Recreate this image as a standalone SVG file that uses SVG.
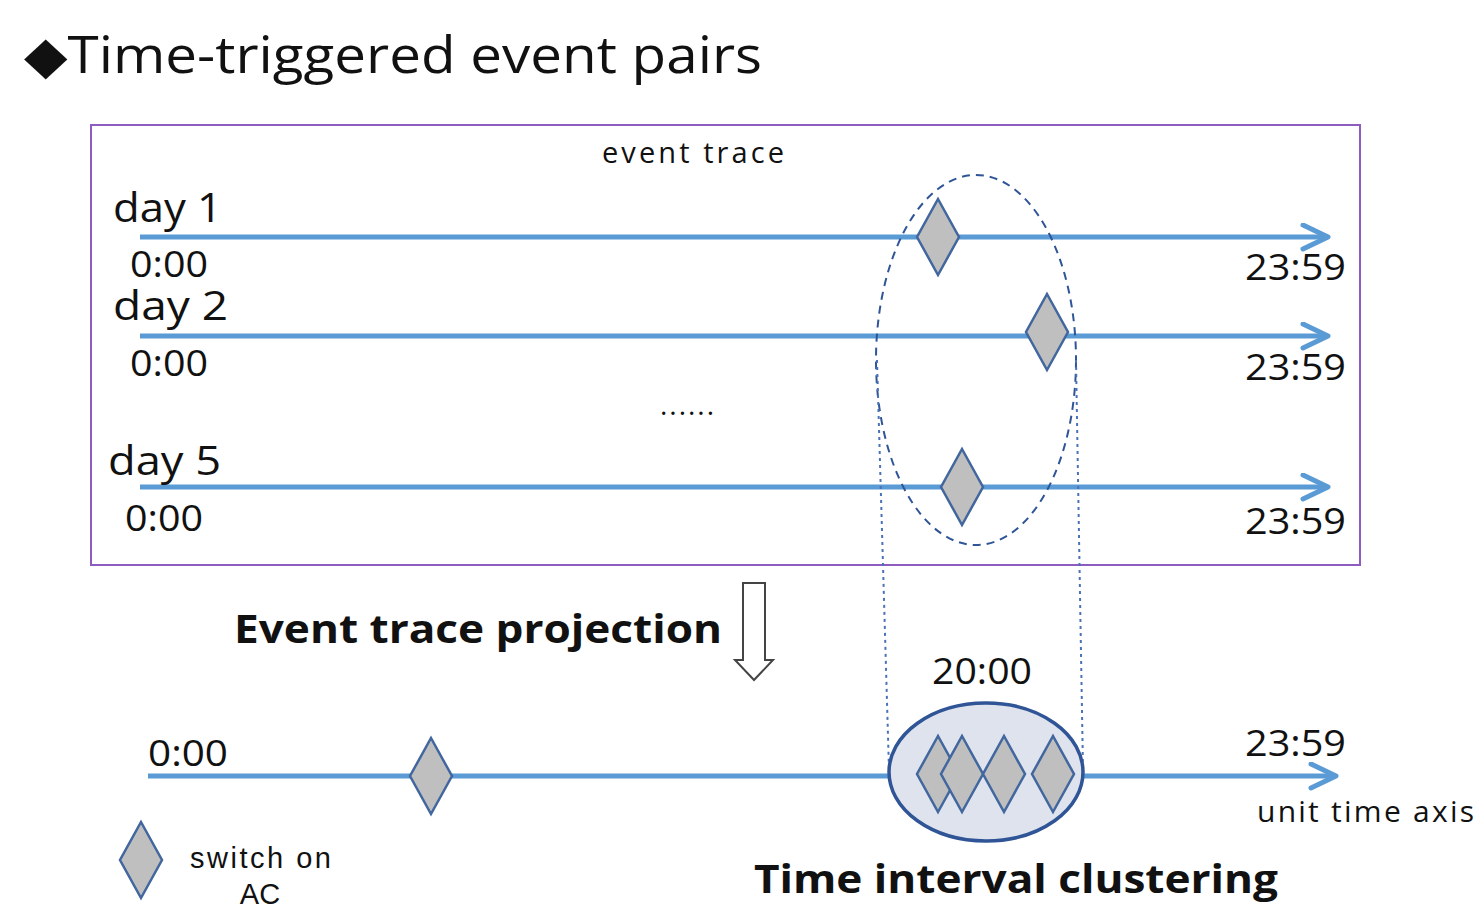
<svg xmlns="http://www.w3.org/2000/svg" width="1484" height="909" viewBox="0 0 1484 909">
<defs>
<style>
.ax{stroke:#5B9BD5;stroke-width:5;fill:none}
.dm{fill:#BFBFBF;stroke:#41679E;stroke-width:2.5;stroke-linejoin:miter}
.t{font-family:"Open Sans","Noto Sans","DejaVu Sans",sans-serif;fill:#111}
.a{font-family:"Liberation Sans",Arial,sans-serif;fill:#111}
.dl{stroke:#4A72B8;stroke-width:2;stroke-dasharray:3 4;fill:none}
</style>
<marker id="ah" markerUnits="userSpaceOnUse" markerWidth="40" markerHeight="40" refX="28" refY="14" orient="auto" viewBox="0 0 40 40">
<path d="M3,2 L28,14 L3,26" fill="none" stroke="#5B9BD5" stroke-width="5" stroke-linecap="round" stroke-linejoin="round"/>
</marker>
<polygon id="dia" points="0,-38 21,0 0,38 -21,0"/>
</defs>
<rect width="1484" height="909" fill="#fff"/>
<g id="title">
<text class="t" x="24" y="73" font-size="52" textLength="738" lengthAdjust="spacingAndGlyphs">◆Time-triggered event pairs</text>
</g>
<g id="trace-box">
<rect x="91" y="125" width="1269" height="440" fill="none" stroke="#8E5BC0" stroke-width="2"/>
<text class="t" x="602" y="163" font-size="29" textLength="182" lengthAdjust="spacing">event trace</text>
</g>
<g id="connectors">
<line class="ax" x1="140" y1="237" x2="1328" y2="237" marker-end="url(#ah)"/>
<line class="ax" x1="140" y1="336" x2="1328" y2="336" marker-end="url(#ah)"/>
<line class="ax" x1="140" y1="487" x2="1328" y2="487" marker-end="url(#ah)"/>
<line class="ax" x1="148" y1="776" x2="1336" y2="776" marker-end="url(#ah)"/>
<ellipse cx="976" cy="360" rx="100" ry="185" fill="none" stroke="#2F5597" stroke-width="2" stroke-dasharray="8 6"/>
<line class="dl" x1="877" y1="360" x2="889" y2="770"/>
<line class="dl" x1="1076" y1="360" x2="1083" y2="770"/>
<path d="M743,583 H765 V660 H773 L754,680 L735,660 H743 Z" fill="#fff" stroke="#444" stroke-width="2"/>
</g>
<g id="day1">
<text class="t" x="113" y="222" font-size="40" textLength="109" lengthAdjust="spacingAndGlyphs">day 1</text>
<text class="t" x="130" y="277" font-size="37" textLength="78" lengthAdjust="spacingAndGlyphs">0:00</text>
<text class="t" x="1245" y="280" font-size="37" textLength="101" lengthAdjust="spacingAndGlyphs">23:59</text>
<use href="#dia" class="dm" x="938" y="237"/>
</g>
<g id="day2">
<text class="t" x="113" y="320" font-size="40" textLength="115" lengthAdjust="spacingAndGlyphs">day 2</text>
<text class="t" x="130" y="376" font-size="37" textLength="78" lengthAdjust="spacingAndGlyphs">0:00</text>
<text class="t" x="1245" y="380" font-size="37" textLength="101" lengthAdjust="spacingAndGlyphs">23:59</text>
<use href="#dia" class="dm" x="1047" y="332"/>
</g>
<g id="ellipsis">
<text class="t" x="660" y="415" font-size="28" textLength="54" lengthAdjust="spacing">......</text>
</g>
<g id="day5">
<text class="t" x="108" y="475" font-size="40" textLength="113" lengthAdjust="spacingAndGlyphs">day 5</text>
<text class="t" x="125" y="531" font-size="37" textLength="78" lengthAdjust="spacingAndGlyphs">0:00</text>
<text class="t" x="1245" y="534" font-size="37" textLength="101" lengthAdjust="spacingAndGlyphs">23:59</text>
<use href="#dia" class="dm" x="962" y="487"/>
</g>
<g id="projection-label">
<text class="t" x="234" y="643" font-size="40" font-weight="bold" textLength="488" lengthAdjust="spacingAndGlyphs">Event trace projection</text>
</g>
<g id="unit-axis">
<text class="t" x="148" y="766" font-size="37" textLength="80" lengthAdjust="spacingAndGlyphs">0:00</text>
<text class="t" x="1245" y="756" font-size="37" textLength="101" lengthAdjust="spacingAndGlyphs">23:59</text>
<text class="t" x="1257" y="822" font-size="30" textLength="217" lengthAdjust="spacing">unit time axis</text>
<use href="#dia" class="dm" x="431" y="776"/>
</g>
<g id="cluster">
<text class="t" x="932" y="684" font-size="37" textLength="100" lengthAdjust="spacingAndGlyphs">20:00</text>
<ellipse cx="986" cy="772" rx="97" ry="69" fill="#DEE3EE" stroke="#2F5597" stroke-width="3.5"/>
<use href="#dia" class="dm" x="938" y="774"/>
<use href="#dia" class="dm" x="962" y="774"/>
<use href="#dia" class="dm" x="1004" y="774"/>
<use href="#dia" class="dm" x="1053" y="774"/>
<text class="t" x="754" y="893" font-size="40" font-weight="bold" textLength="524" lengthAdjust="spacingAndGlyphs">Time interval clustering</text>
</g>
<g id="legend">
<use href="#dia" class="dm" x="141" y="860"/>
<text class="a" x="190" y="868" font-size="29" textLength="141" lengthAdjust="spacing">switch on</text>
<text class="a" x="260" y="904" font-size="29" text-anchor="middle">AC</text>
</g>
</svg>
